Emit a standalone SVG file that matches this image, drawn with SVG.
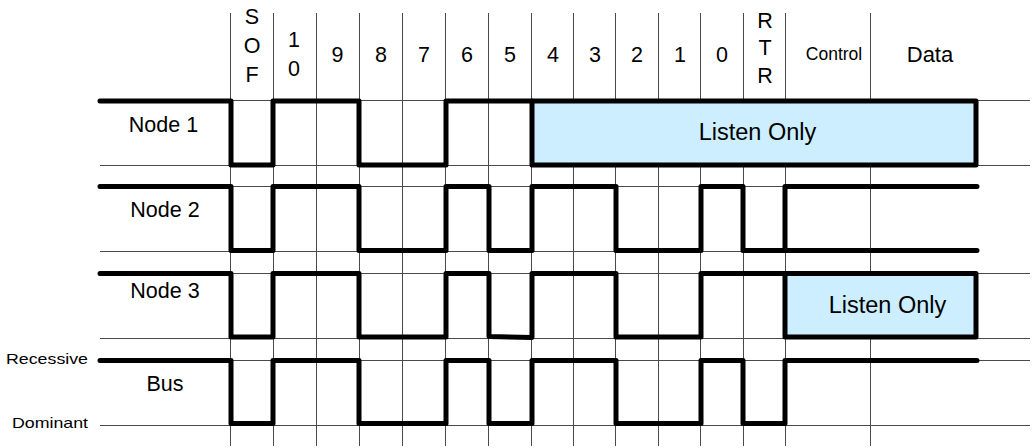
<svg xmlns="http://www.w3.org/2000/svg" width="1033" height="448" viewBox="0 0 1033 448">
<style>
.grid{stroke:#4a4a4a;stroke-width:1;fill:none}
.sig{stroke:#000;stroke-width:5;fill:none;stroke-linejoin:round;stroke-linecap:round}
.box{stroke:#000;stroke-width:5;fill:#cceeff;stroke-linejoin:round}
text{font-family:"Liberation Sans",Arial,sans-serif;fill:#000}
.hd{font-size:21.5px;text-anchor:middle}
.lbl{font-size:21.5px;text-anchor:middle}
.lo{font-size:23.5px;text-anchor:middle}
.lv{font-size:15px}
</style>
<rect width="1033" height="448" fill="#fff"/>
<g id="grid" class="grid">
<path d="M230.5,13V446M273.5,13V446M316.5,13V446M359.5,13V446M402.5,13V446M445.5,13V446M488.5,13V446M531.5,13V446M573.5,13V446M615.5,13V446M658.5,13V446M700.5,13V446M743.5,13V446M785.5,13V446M870.5,13V446"/>
<path d="M100,100.5H1030M100,165.5H1030M100,186.5H977M100,251.5H977M100,273.5H1030M100,338.5H1030M100,360.5H1030M100,425.5H1030"/>
</g>
<g id="header">
<text class="hd" x="252" y="24">S</text>
<text class="hd" x="252" y="53">O</text>
<text class="hd" x="252" y="82">F</text>
<text class="hd" x="294" y="47">1</text>
<text class="hd" x="294" y="76">0</text>
<text class="hd" x="337.5" y="62">9</text>
<text class="hd" x="381" y="62">8</text>
<text class="hd" x="424" y="62">7</text>
<text class="hd" x="467" y="62">6</text>
<text class="hd" x="510" y="62">5</text>
<text class="hd" x="553" y="62">4</text>
<text class="hd" x="595" y="62">3</text>
<text class="hd" x="637" y="62">2</text>
<text class="hd" x="680" y="62">1</text>
<text class="hd" x="722" y="62">0</text>
<text class="hd" x="765" y="28">R</text>
<text class="hd" x="765" y="55">T</text>
<text class="hd" x="765" y="83">R</text>
<text x="834" y="60" style="font-size:17.5px;text-anchor:middle">Control</text>
<text class="hd" x="930" y="62" style="font-size:22px">Data</text>
</g>
<g id="node1">
<text class="lbl" x="163.5" y="132">Node 1</text>
<path class="sig" d="M100,101H231V165H273V101H359V165H446V101H532"/>
<path class="box" d="M532,101H976V165H532Z"/>
<text class="lo" x="757.5" y="140">Listen Only</text>
</g>
<g id="node2">
<text class="lbl" x="165" y="217">Node 2</text>
<path class="sig" d="M100,186.5H231V250.5H273V186.5H359V250.5H446V186.5H489V250.5H532V186.5H616V250.5H701V186.5H743V250.5H977M785,250.5V186.5H977"/>
</g>
<g id="node3">
<text class="lbl" x="165" y="298">Node 3</text>
<path class="sig" d="M100,273.5H231V337H273V273.5H359V337H446V273.5H489V336.5L532,337.5V273.5H616V337H701V273.5H785"/>
<path class="box" d="M785,273.5H976V337H785Z"/>
<text class="lo" x="887.5" y="312.5">Listen Only</text>
</g>
<g id="bus">
<text class="lbl" x="165" y="391">Bus</text>
<text class="lv" x="6" y="364" textLength="82" lengthAdjust="spacingAndGlyphs">Recessive</text>
<text class="lv" x="12" y="428" textLength="76" lengthAdjust="spacingAndGlyphs">Dominant</text>
<path class="sig" d="M100,360.5H231V423.5H273V360.5H359V423.5H446V360.5H489V423.5H532V360.5H616V423.5H701V360.5H743V423.5H785V360.5H977"/>
</g>
</svg>
